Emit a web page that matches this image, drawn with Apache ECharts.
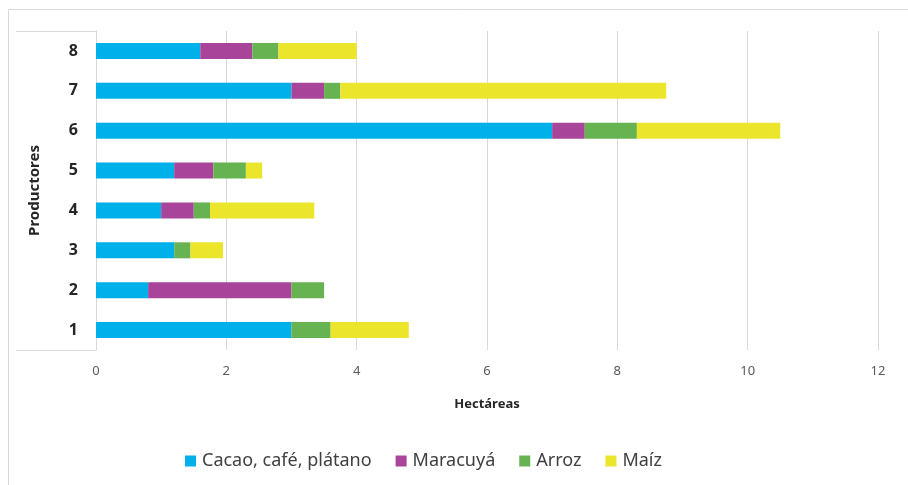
<!DOCTYPE html>
<html>
<head>
<meta charset="utf-8">
<script src="https://cdn.jsdelivr.net/npm/echarts@6/dist/echarts.min.js"></script>
<style>
  html, body { margin: 0; padding: 0; background: #ffffff; }
  #chart { width: 908px; height: 485px; }
</style>
</head>
<body>
<div id="chart"></div>
<script>
// Hectares per producer, by crop
const productores = ['1', '2', '3', '4', '5', '6', '7', '8'];
const cacaoCafePlatano = [3.0, 0.8, 1.2, 1.0, 1.2, 7.0, 3.0, 1.6];
const maracuya        = [0,   2.2, 0,   0.5, 0.6, 0.5, 0.5, 0.8];
const arroz           = [0.6, 0.5, 0.25, 0.25, 0.5, 0.8, 0.25, 0.4];
const maiz            = [1.2, 0,   0.5, 1.6, 0.25, 2.2, 5.0, 1.2];
const xTicks = { min: 0, max: 12, interval: 2 };

const seriesDefs = [
  { name: 'Cacao, café, plátano', data: cacaoCafePlatano, color: '#00b0e8' },
  { name: 'Maracuyá', data: maracuya, color: '#a8449a' },
  { name: 'Arroz', data: arroz, color: '#67b352' },
  { name: 'Maíz', data: maiz, color: '#ebe62b' }
];

const font = 'Noto Sans';
const chart = echarts.init(document.getElementById('chart'));

chart.setOption({
  animation: false,
  textStyle: { fontFamily: font },
  grid: { left: 96, right: 30, top: 31, bottom: 135 },
  legend: {
    top: 447,
    left: 180,
    itemWidth: 11,
    itemHeight: 11,
    itemGap: 24,
    icon: 'rect',
    textStyle: { fontFamily: font, fontSize: 18, color: '#404040', padding: [0, 0, 0, 1] },
    data: seriesDefs.map(s => s.name)
  },
  xAxis: {
    type: 'value',
    min: xTicks.min,
    max: xTicks.max,
    interval: xTicks.interval,
    name: 'Hectáreas',
    nameLocation: 'middle',
    nameGap: 48,
    nameTextStyle: { fontFamily: font, fontSize: 13, fontWeight: 'bold', color: '#262626' },
    axisLine: { show: false },
    axisTick: { show: false },
    axisLabel: { fontFamily: font, fontSize: 13, color: '#595959', margin: 15 },
    splitLine: { show: true, lineStyle: { color: '#d9d9d9', width: 1 } }
  },
  yAxis: {
    type: 'category',
    data: productores,
    name: 'Productores',
    nameLocation: 'middle',
    nameGap: 54,
    nameRotate: 90,
    nameTextStyle: { fontFamily: font, fontSize: 15, fontWeight: 'bold', color: '#262626' },
    axisLine: { show: true, lineStyle: { color: '#d9d9d9', width: 1 } },
    axisTick: { show: false },
    axisLabel: { fontFamily: font, fontSize: 16, fontWeight: 'bold', color: '#262626', margin: 18 }
  },
  graphic: [
    // outer frame (top and left edges)
    { type: 'line', shape: { x1: 8.5, y1: 9.5, x2: 908, y2: 9.5 }, style: { stroke: '#d9d9d9', lineWidth: 1 }, silent: true },
    { type: 'line', shape: { x1: 8.5, y1: 9.5, x2: 8.5, y2: 485 }, style: { stroke: '#d9d9d9', lineWidth: 1 }, silent: true },
    // category label box edges
    { type: 'line', shape: { x1: 16, y1: 31.5, x2: 96, y2: 31.5 }, style: { stroke: '#d9d9d9', lineWidth: 1 }, silent: true },
    { type: 'line', shape: { x1: 16, y1: 350.5, x2: 96, y2: 350.5 }, style: { stroke: '#d9d9d9', lineWidth: 1 }, silent: true }
  ],
  series: seriesDefs.map(s => ({
    name: s.name,
    type: 'bar',
    stack: 'total',
    barWidth: 16,
    data: s.data,
    itemStyle: { color: s.color },
    emphasis: { disabled: true }
  }))
});
</script>
</body>
</html>
